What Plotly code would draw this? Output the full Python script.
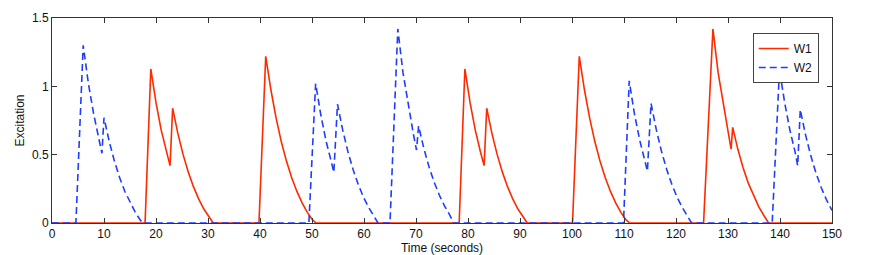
import plotly.graph_objects as go

# W1 (red, solid) — time (s) and excitation values
w1_t = [0, 17.9, 19.0, 20.0, 21.0, 22.0, 22.7, 23.2, 24.2, 25.2, 26.2, 27.2, 28.2, 29.2, 30.2, 31.0,
        39.8, 41.1, 42.1, 43.1, 44.1, 45.1, 46.1, 47.1, 48.1, 49.1, 50.1, 50.8,
        78.3, 79.4, 80.4, 81.4, 82.4, 83.1, 83.6, 84.6, 85.6, 86.6, 87.6, 88.6, 89.6, 90.6, 91.4,
        100.1, 101.4, 102.4, 103.4, 104.4, 105.4, 106.4, 107.4, 108.4, 109.4, 110.4, 111.1,
        125.3, 127.1, 128.1, 129.1, 130.1, 130.6, 130.9, 131.9, 132.9, 133.9, 134.9, 135.9, 136.9, 137.8,
        150]
w1_v = [0, 0, 1.127, 0.88, 0.68, 0.52, 0.42, 0.84, 0.656, 0.502, 0.374, 0.266, 0.177, 0.102, 0.040, 0,
        0, 1.22, 0.973, 0.767, 0.594, 0.451, 0.331, 0.231, 0.147, 0.078, 0.022, 0,
        0, 1.127, 0.88, 0.68, 0.52, 0.42, 0.84, 0.656, 0.502, 0.374, 0.266, 0.177, 0.102, 0.040, 0,
        0, 1.22, 0.973, 0.767, 0.594, 0.451, 0.331, 0.231, 0.147, 0.078, 0.022, 0,
        0, 1.42, 1.10, 0.86, 0.65, 0.54, 0.70, 0.539, 0.404, 0.292, 0.199, 0.120, 0.055, 0,
        0]

# W2 (blue, dashed)
w2_t = [0, 4.6, 6.0, 7.0, 8.0, 9.0, 9.6, 10.0, 11.0, 12.0, 13.0, 14.0, 15.0, 16.0, 17.0, 17.5,
        49.4, 50.7, 51.7, 52.7, 53.7, 54.2, 54.9, 55.9, 56.9, 57.9, 58.9, 59.9, 60.9, 61.9, 62.7,
        65.0, 66.5, 67.5, 68.5, 69.5, 70.1, 70.5, 71.5, 72.5, 73.5, 74.5, 75.5, 76.5, 77.2,
        109.9, 111.0, 112.0, 113.0, 114.0, 114.5, 115.2, 116.2, 117.2, 118.2, 119.2, 120.2, 121.2, 122.2, 123.0,
        138.5, 139.9, 140.9, 141.9, 142.9, 143.4, 143.9, 144.9, 145.9, 146.9, 147.9, 148.9, 149.9, 150]
w2_v = [0, 0, 1.30, 1.02, 0.80, 0.61, 0.51, 0.77, 0.597, 0.453, 0.333, 0.232, 0.149, 0.079, 0.020, 0,
        0, 1.02, 0.79, 0.60, 0.45, 0.37, 0.87, 0.681, 0.523, 0.391, 0.281, 0.189, 0.113, 0.049, 0,
        0, 1.42, 1.10, 0.86, 0.65, 0.534, 0.71, 0.547, 0.411, 0.298, 0.203, 0.124, 0.058, 0,
        0, 1.04, 0.80, 0.61, 0.46, 0.38, 0.875, 0.685, 0.526, 0.393, 0.283, 0.19, 0.114, 0.05, 0,
        0, 1.12, 0.88, 0.68, 0.52, 0.42, 0.83, 0.647, 0.495, 0.368, 0.262, 0.173, 0.099, 0.093]

x_ticks = [0, 10, 20, 30, 40, 50, 60, 70, 80, 90, 100, 110, 120, 130, 140, 150]
y_ticks = [0, 0.5, 1, 1.5]
y_tick_labels = ["0", "0.5", "1", "1.5"]

FONT = "Liberation Sans, Arial, Helvetica"

fig = go.Figure()
fig.add_trace(go.Scatter(x=w1_t, y=w1_v, mode="lines", name="W1",
                         line=dict(color="#ff2a00", width=1.6)))
fig.add_trace(go.Scatter(x=w2_t, y=w2_v, mode="lines", name="W2",
                         line=dict(color="#1f3dff", width=1.6, dash="7px,4px")))

axis_common = dict(showline=True, linecolor="#333333", linewidth=1, mirror="ticks",
                   ticks="inside", ticklen=5, tickcolor="#333333", showgrid=False,
                   zeroline=False, tickfont=dict(family=FONT, size=12, color="#111"))

fig.update_xaxes(range=[0, 150], tickvals=x_ticks, automargin=False,
                 title=dict(text="Time (seconds)", standoff=4,
                            font=dict(family=FONT, size=12, color="#111")),
                 **axis_common)
fig.update_yaxes(range=[0, 1.5], tickvals=y_ticks, ticktext=y_tick_labels, automargin=False,
                 title=dict(text="Excitation", standoff=4,
                            font=dict(family=FONT, size=12, color="#111")),
                 **axis_common)

# page body has an 8px default margin, so the figure is sized to fit the 886x255 window
fig.update_layout(
    width=878, height=247,
    margin=dict(l=44, r=54, t=10, b=32),
    plot_bgcolor="white", paper_bgcolor="white",
    showlegend=True,
    legend=dict(x=0.983, y=0.927, xanchor="right", yanchor="top",
                bgcolor="white", bordercolor="#444444", borderwidth=1,
                font=dict(family=FONT, size=12, color="#111"),
                tracegroupgap=0, itemwidth=30),
)

fig.write_html("out.html")
